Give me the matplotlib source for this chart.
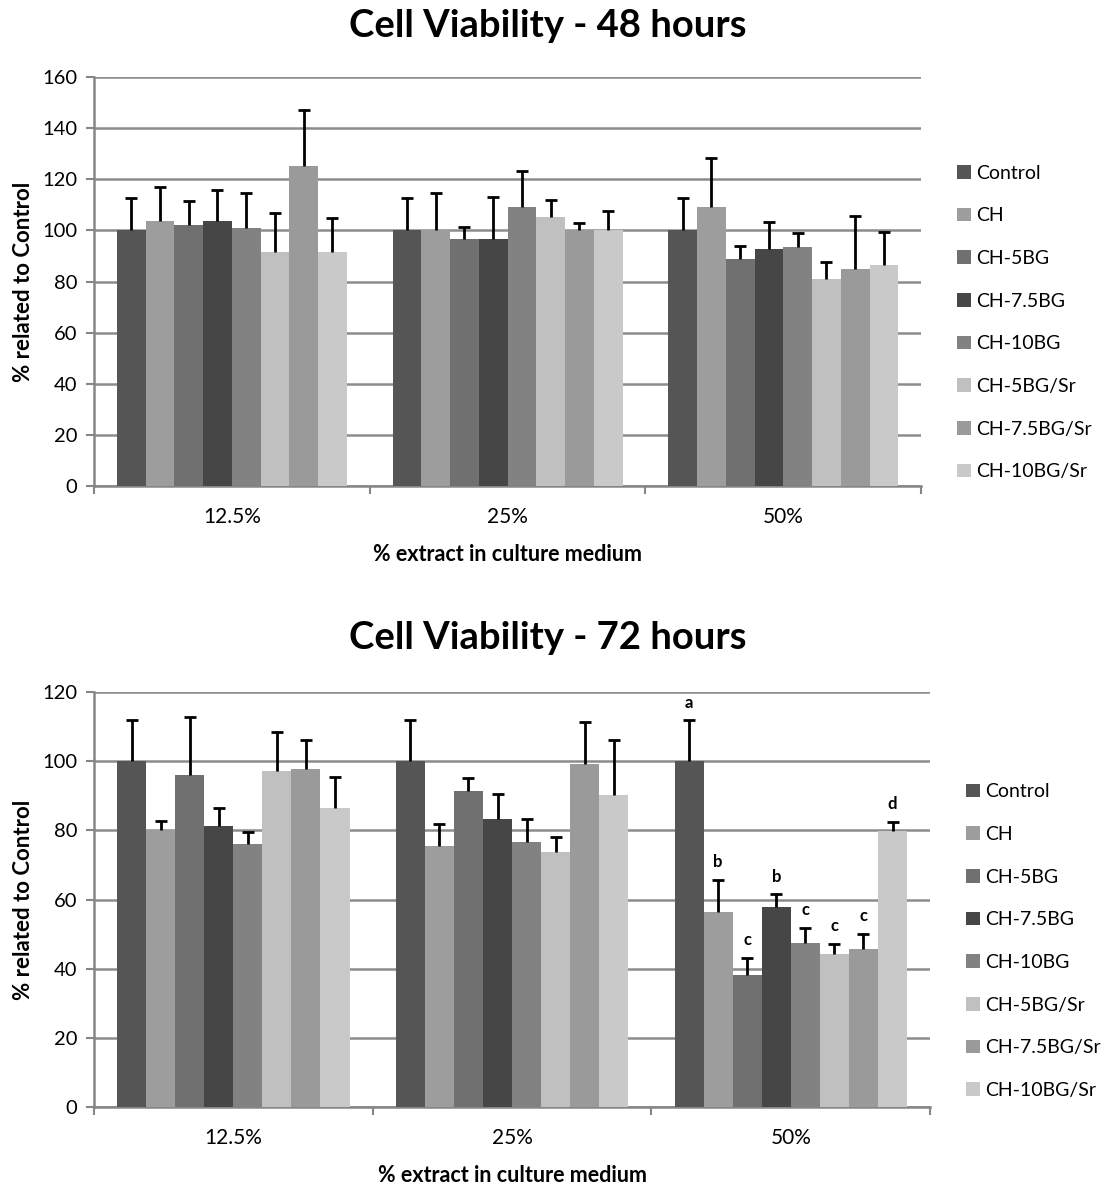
import matplotlib
matplotlib.use("Agg")
import matplotlib.pyplot as plt
import numpy as np

plt.rcParams['font.family'] = ['Lato', 'DejaVu Sans']

categories = ["12.5%", "25%", "50%"]
series = ["Control", "CH", "CH-5BG", "CH-7.5BG", "CH-10BG", "CH-5BG/Sr", "CH-7.5BG/Sr", "CH-10BG/Sr"]
colors = ["#555555", "#9d9d9d", "#707070", "#464646", "#828282", "#c0c0c0", "#9a9a9a", "#c9c9c9"]

# 48 hours: values per series across categories
vals48 = [
    [100.0, 100.0, 100.0],
    [103.8, 100.0, 109.2],
    [102.1, 96.8, 88.9],
    [103.8, 96.8, 92.8],
    [100.8, 109.2, 93.4],
    [91.5, 105.2, 81.0],
    [125.3, 100.0, 84.9],
    [91.5, 100.0, 86.3],
]
tops48 = [
    [112.8, 112.8, 112.8],
    [116.9, 114.5, 128.5],
    [111.5, 101.5, 93.9],
    [115.8, 113.2, 103.4],
    [114.5, 123.4, 99.1],
    [106.7, 111.9, 87.6],
    [147.1, 103.0, 105.7],
    [105.0, 107.5, 99.5],
]

# 72 hours
vals72 = [
    [100.0, 100.0, 100.0],
    [80.2, 75.4, 56.3],
    [96.1, 91.3, 38.1],
    [81.2, 83.2, 57.8],
    [76.1, 76.7, 47.4],
    [97.2, 73.7, 44.2],
    [97.7, 99.1, 45.8],
    [86.5, 90.3, 79.9],
]
tops72 = [
    [111.8, 111.8, 111.8],
    [82.7, 81.9, 65.6],
    [112.9, 95.2, 43.1],
    [86.6, 90.4, 61.5],
    [79.6, 83.2, 51.8],
    [108.4, 78.1, 47.1],
    [106.0, 111.4, 50.0],
    [95.5, 106.0, 82.5],
]
letters72_50 = ["a", "b", "c", "b", "c", "c", "c", "d"]

fig = plt.figure(figsize=(11.18, 11.84), dpi=100)

def draw(ax, vals, tops, ymax, title_y, title, letters=None):
    n = len(series)
    x = np.arange(len(categories))
    w = 0.834 / n
    for i, s in enumerate(series):
        pos = x - 0.417 + w * (i + 0.5)
        v = np.array(vals[i])
        t = np.array(tops[i])
        ax.bar(pos, v, width=w, color=colors[i], label=s, zorder=3, linewidth=0)
        eb = ax.errorbar(pos, v, yerr=[np.zeros_like(v), t - v], fmt='none', ecolor='black',
                         elinewidth=2, capsize=4, capthick=2, zorder=4)
        caps = eb[1]
        if len(caps) == 2:
            caps[0].set_visible(False)
        if letters is not None:
            ax.annotate(letters[i], (pos[2], t[2]), xytext=(0, 7), textcoords='offset points',
                        ha='center', va='bottom', fontsize=12, fontweight='bold', zorder=5)
    ax.set_xlim(-0.5, len(categories) - 0.5)
    ax.set_ylim(0, ymax)
    ax.set_yticks(np.arange(0, ymax + 1, 20))
    ax.set_xticks(np.arange(-0.5, len(categories)), minor=False)
    ax.set_xticklabels([])
    ax.set_xticks(x, minor=True)
    ax.set_xticklabels(categories, minor=True, fontsize=15)
    ax.tick_params(axis='x', which='minor', length=0, pad=15)
    ax.tick_params(axis='x', which='major', length=6, width=1.5, color='#868686', direction='out')
    ax.tick_params(axis='y', length=6, width=1.5, color='#868686', labelsize=14.5, pad=6)
    ax.grid(axis='y', color='#8c8c8c', linewidth=1.8, zorder=0)
    for sp in ['top', 'right']:
        ax.spines[sp].set_visible(False)
    for sp in ['left', 'bottom']:
        ax.spines[sp].set_color('#868686')
        ax.spines[sp].set_linewidth(1.8)
    ax.set_ylabel("% related to Control", fontsize=16, fontweight='bold', labelpad=6)
    ax.set_xlabel("% extract in culture medium", fontsize=15.5, fontweight='bold', labelpad=12)
    ax.legend(loc='center left', bbox_to_anchor=(1.022, 0.40), frameon=False,
              fontsize=14, labelspacing=1.32, handlelength=0.7, handleheight=0.7,
              handletextpad=0.3)
    fig.text(0.49, title_y, title, ha='center', va='center', fontsize=27.5, fontweight='bold')

ax1 = fig.add_axes([0.084, 0.5895, 0.740, 0.3454])
draw(ax1, vals48, tops48, 160, 0.978, "Cell Viability - 48 hours")
ax2 = fig.add_axes([0.084, 0.065, 0.748, 0.3505])
draw(ax2, vals72, tops72, 120, 0.461, "Cell Viability - 72 hours", letters72_50)

fig.savefig("out.png", dpi=100)
